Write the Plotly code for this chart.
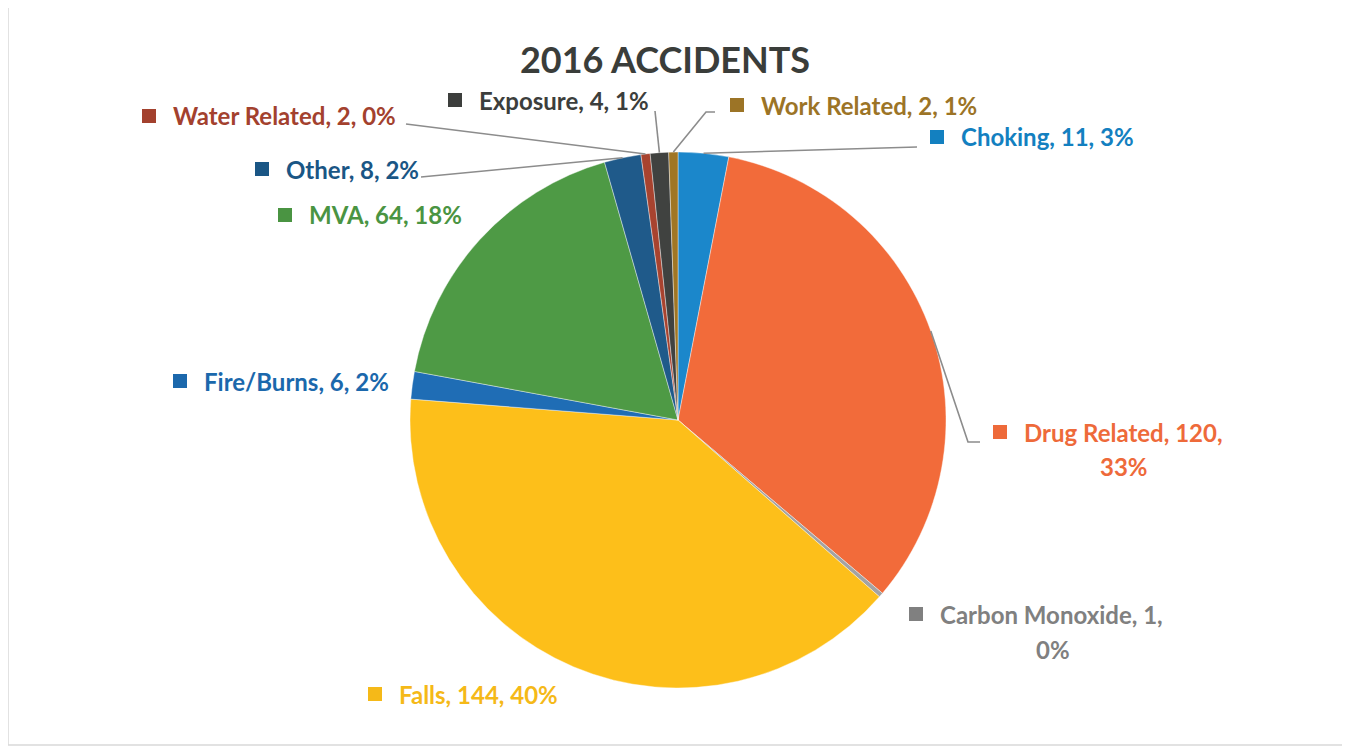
import math
import plotly.graph_objects as go

# ---------------- data ----------------
categories = ["Choking", "Drug Related", "Carbon Monoxide", "Falls", "Fire/Burns",
              "MVA", "Other", "Water Related", "Exposure", "Work Related"]
values = [11, 120, 1, 144, 6, 64, 8, 2, 4, 2]
pct_labels = ["3%", "33%", "0%", "40%", "2%", "18%", "2%", "0%", "1%", "1%"]
title_text = "2016 ACCIDENTS"

# ---------------- styles ----------------
slice_colors = ["#1B87CB", "#F26B3A", "#A3A3A3", "#FDBF1A", "#1F6DB5",
                "#4E9A45", "#1F5A8A", "#A8432F", "#404240", "#A07624"]
text_colors = ["#1380C0", "#EE6A3A", "#808080", "#F5B918", "#1B68AC",
               "#4A9442", "#1A5685", "#A3412E", "#3C3E3C", "#9C7426"]

W, H = 1350, 753
OFF = 8                      # page body margin
CX, CY, R = 678, 420, 268    # pie centre / radius in page pixels
KEY = 14                     # legend-key square size
TEXT_GAP = 29                # key left -> text left

# label layout: (left x of key square, y centre, wrap?, x centre of 2nd line, y of 2nd line)
label_pos = [
    (930, 137, False, None, None),
    (993, 432, True, 1124, 466),
    (909, 614, True, 1053, 649),
    (368, 694, False, None, None),
    (173, 381, False, None, None),
    (278, 215, False, None, None),
    (255, 169, False, None, None),
    (142, 116, False, None, None),
    (448, 100, False, None, None),
    (730, 105, False, None, None),
]
# leader line paths (label-side points in page px); None = no leader
leader_start = [
    [(917, 147)],
    [(980, 442), (968, 442)],
    None,
    None,
    None,
    None,
    [(421, 177)],
    [(406, 124)],
    [(655, 111)],
    [(715, 112), (706, 112)],
]


def px(x):
    return (x - OFF) / W


def py(y):
    return 1 - (y - OFF) / H


fig = go.Figure()
fig.add_trace(go.Pie(
    labels=categories,
    values=values,
    sort=False,
    direction="clockwise",
    rotation=0,
    textinfo="none",
    hoverinfo="label+value+percent",
    marker=dict(colors=slice_colors, line=dict(color="rgba(255,255,255,0.5)", width=0.8)),
    domain=dict(x=[px(CX - R), px(CX + R)], y=[py(CY + R), py(CY - R)]),
    showlegend=False,
))

annotations = []
shapes = []
total = sum(values)
cum = 0
font_family = "Lato, 'Open Sans', sans-serif"
LABEL_SIZE = 24
for i, (cat, v, pct) in enumerate(zip(categories, values, pct_labels)):
    mid = (cum + v / 2) / total * 2 * math.pi
    cum += v
    ex = CX + R * math.sin(mid)
    ey = CY - R * math.cos(mid)
    lx, ly, wrap, x2, y2 = label_pos[i]
    if wrap:
        line1 = f"{cat}, {v},"
        line2 = pct
    else:
        line1 = f"{cat}, {v}, {pct}"
        line2 = None
    # legend key square
    shapes.append(dict(type="rect", xref="paper", yref="paper",
                       x0=px(lx), x1=px(lx + KEY), y0=py(ly + KEY / 2), y1=py(ly - KEY / 2),
                       fillcolor=text_colors[i], line=dict(width=0)))
    annotations.append(dict(
        x=px(lx + TEXT_GAP), y=py(ly), xref="paper", yref="paper",
        xanchor="left", yanchor="middle", showarrow=False,
        text=line1,
        font=dict(family=font_family, size=LABEL_SIZE, color=text_colors[i], weight="bold"),
    ))
    if line2:
        annotations.append(dict(
            x=px(x2), y=py(y2), xref="paper", yref="paper",
            xanchor="center", yanchor="middle", showarrow=False,
            text=line2,
            font=dict(family=font_family, size=LABEL_SIZE, color=text_colors[i], weight="bold"),
        ))
    pts = leader_start[i]
    if pts:
        path_pts = pts + [(ex, ey)]
        path = "M " + " L ".join(f"{px(x)} {py(y)}" for x, y in path_pts)
        shapes.append(dict(type="path", path=path, xref="paper", yref="paper",
                           line=dict(color="#8C8C8C", width=1.6)))

# chart border
shapes.append(dict(type="rect", xref="paper", yref="paper",
                   x0=px(8), x1=px(1345), y0=py(745), y1=py(7),
                   line=dict(color="#D9D9D9", width=1.5)))

fig.update_layout(
    width=W, height=H,
    margin=dict(l=0, r=0, t=0, b=0),
    paper_bgcolor="white",
    plot_bgcolor="white",
    title=dict(text=title_text, x=px(665), xanchor="center", y=py(60), yanchor="middle",
               yref="container", xref="container",
               font=dict(family=font_family, size=36, color="#3A3D3A", weight="bold")),
    annotations=annotations,
    shapes=shapes,
)

fig.write_html("out.html")
